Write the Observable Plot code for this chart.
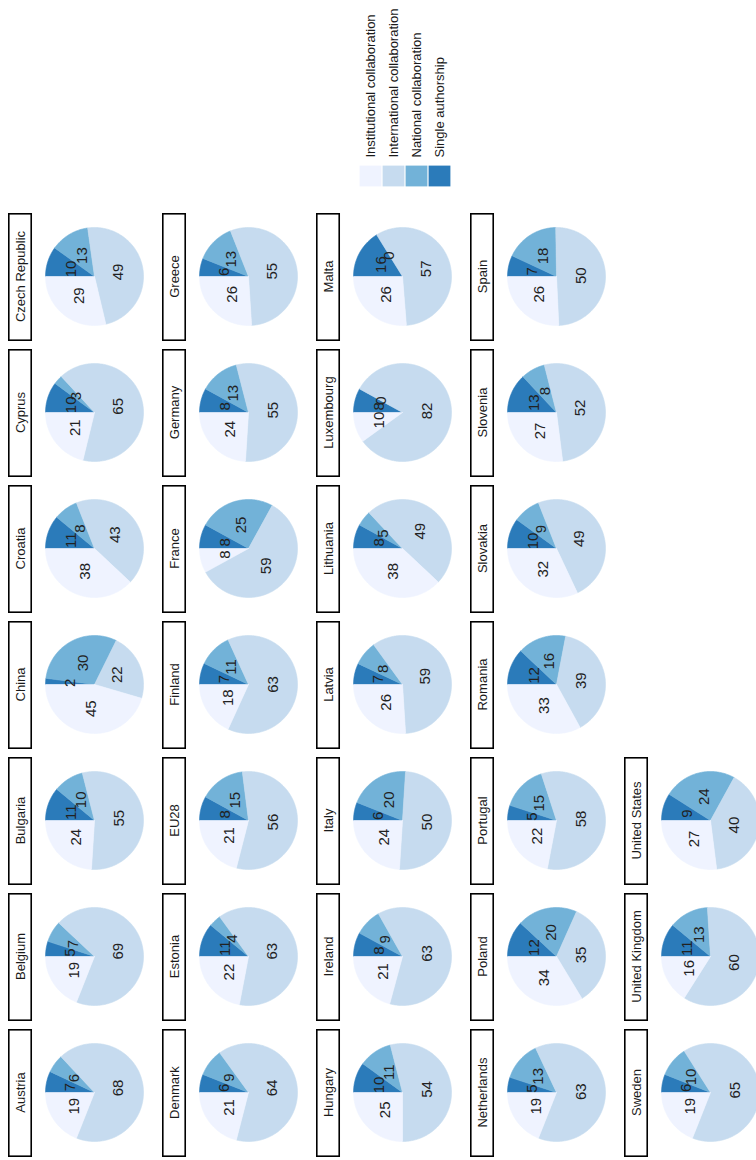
<!DOCTYPE html>
<html><head><meta charset="utf-8">
<script src="https://cdn.jsdelivr.net/npm/d3@7"></script>
<script src="https://cdn.jsdelivr.net/npm/@observablehq/plot@0.6"></script>
<style>
html,body{margin:0;padding:0;overflow:hidden;background:#fff;width:756px;height:1160px;}
#frame{position:absolute;left:0;top:0;width:1160px;height:756px;overflow:hidden;transform-origin:0 0;transform:translate(0,1160px) rotate(-90deg);font-family:"Liberation Sans",Arial,sans-serif;background:#fff}
#chart{position:absolute;left:0;top:0}
#legend{position:absolute;left:947px;top:0}
</style></head><body><div id="frame"><div id="chart"></div><div id="legend"></div></div>
<script>
const countries = ["Austria","Belgium","Bulgaria","China","Croatia","Cyprus","Czech Republic",
  "Denmark","Estonia","EU28","Finland","France","Germany","Greece",
  "Hungary","Ireland","Italy","Latvia","Lithuania","Luxembourg","Malta",
  "Netherlands","Poland","Portugal","Romania","Slovakia","Slovenia","Spain",
  "Sweden","United Kingdom","United States"];
const categories = ["Institutional collaboration","International collaboration","National collaboration","Single authorship"];
const institutional = [19,19,24,45,38,21,29, 21,22,21,18,8,24,26, 25,21,24,26,38,10,26, 19,34,22,33,32,27,26, 19,16,27];
const international = [68,69,55,22,43,65,49, 64,63,56,63,59,55,55, 54,63,50,59,49,82,57, 63,35,58,39,49,52,50, 65,60,40];
const national      = [6,7,10,30,8,3,13, 9,4,15,11,25,13,13, 11,9,20,8,5,0,0, 13,20,15,16,9,8,18, 10,13,24];
const single        = [7,5,11,2,11,10,10, 6,11,8,7,8,8,6, 10,8,6,7,8,8,16, 5,12,5,12,10,13,7, 6,11,9];
const colors = ["#eff3ff","#c6dbef","#72b2d8","#2b7bba"];

const series = [institutional, international, national, single];
const clockwiseOrder = [3,2,1,0]; // from 12 o'clock, clockwise
const nCols = 7;
const slices = [], labels = [], strips = [];
countries.forEach((name, i) => {
  const col = i % nCols, row = Math.floor(i / nCols);
  const vals = series.map(s => s[i]);
  const total = d3.sum(vals);
  strips.push({name, col, row});
  let acc = 0;
  for (const k of clockwiseOrder) {
    const v = vals[k];
    const a0 = acc / total * 2 * Math.PI; acc += v;
    const a1 = acc / total * 2 * Math.PI;
    const mid = (a0 + a1) / 2;
    labels.push({col, row, text: String(v), x: 0.5 * Math.sin(mid), y: 0.5 * Math.cos(mid)});
    if (v > 0) {
      const key = name + "|" + k, cat = categories[k];
      slices.push({key, cat, col, row, x: 0, y: 0});
      const n = Math.max(2, Math.ceil((a1 - a0) / (Math.PI / 180)));
      for (let j = 0; j <= n; j++) {
        const a = a0 + (a1 - a0) * j / n;
        slices.push({key, cat, col, row, x: Math.sin(a), y: Math.cos(a)});
      }
      slices.push({key, cat, col, row, x: 0, y: 0});
    }
  }
});

const font = '"Liberation Sans", Arial, sans-serif';
const chart = Plot.plot({
  width: 947, height: 772,
  marginLeft: 3, marginRight: 0, marginTop: 8, marginBottom: 0,
  fx: {domain: d3.range(7), paddingInner: 8/136, paddingOuter: 0, axis: null, round: false},
  fy: {domain: d3.range(5), paddingInner: 6/154, paddingOuter: 0, axis: null, round: false},
  x: {domain: [-1.306, 1.306], axis: null},
  y: {domain: [-1.265, 1.755], axis: null},
  color: {domain: categories, range: colors},
  style: {fontFamily: font, background: "white"},
  marks: [
    Plot.line(slices, {x: "x", y: "y", z: "key", fill: "cat", stroke: "cat", strokeWidth: 0.6, fx: "col", fy: "row", curve: "linear"}),
    Plot.text(labels, {x: "x", y: "y", text: "text", fx: "col", fy: "row", fontSize: 15, fill: "#222"}),
    Plot.rect(strips, {x1: -1.306, x2: 1.306, y1: 1.265, y2: 1.755, fx: "col", fy: "row", fill: "white", stroke: "#000", strokeWidth: 1.6, inset: 0.8}),
    Plot.text(strips, {x: 0, y: 1.51, text: "name", fx: "col", fy: "row", fontSize: 13, fill: "#1a1a1a"})
  ]
});
document.getElementById("chart").appendChild(chart);

const legend = Plot.plot({
  width: 213, height: 756, margin: 0,
  x: {type: "band", domain: ["key"], range: [26, 48], padding: 0, axis: null},
  y: {type: "band", domain: categories, range: [359, 451], paddingInner: 0, paddingOuter: 0, axis: null},
  color: {domain: categories, range: colors},
  style: {fontFamily: font, background: "white"},
  marks: [
    Plot.cell(categories, {x: () => "key", y: d => d, fill: d => d, inset: 0.6}),
    Plot.text(categories, {x: () => "key", y: d => d, text: d => d, dx: 18, textAnchor: "start", fontSize: 13, fill: "#1a1a1a"})
  ]
});
document.getElementById("legend").appendChild(legend);
</script>
</body></html>
